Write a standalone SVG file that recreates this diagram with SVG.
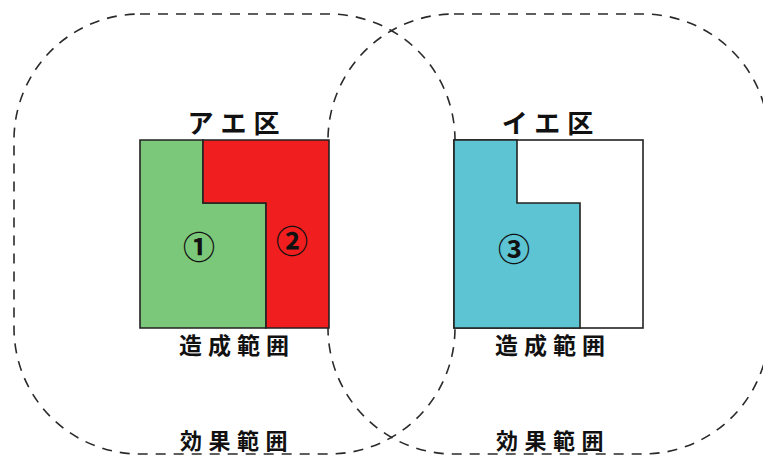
<svg xmlns="http://www.w3.org/2000/svg" width="763" height="455" viewBox="0 0 763 455">
<style>
.area{fill:none;stroke:#2a2a2a;stroke-width:1.6;stroke-dasharray:10 8}
.edge{stroke:#222;stroke-width:1.6;stroke-linejoin:miter}
.title{font-family:"Noto Sans CJK JP","Noto Sans",sans-serif;font-weight:bold;font-size:26px;letter-spacing:7px;fill:#111;text-anchor:middle;dominant-baseline:central}
.lbl{font-family:"Noto Sans CJK JP","Noto Sans",sans-serif;font-weight:bold;font-size:23px;letter-spacing:6px;fill:#111;text-anchor:middle;dominant-baseline:central}
.lbl2{font-family:"Noto Sans CJK JP","Noto Sans",sans-serif;font-weight:bold;font-size:22px;letter-spacing:6.5px;fill:#111;text-anchor:middle;dominant-baseline:central}
.num{font-family:"Noto Sans CJK JP","Noto Sans",sans-serif;font-weight:bold;font-size:32px;fill:#111;text-anchor:middle;dominant-baseline:central}
</style>
<rect width="763" height="455" fill="#ffffff"/>
<g id="connectors">
<path id="effect-left" class="area" d="M140,14 L329,14 A126,126 0 0 1 455,140 L455,328 A126,126 0 0 1 329,454 L140,454 A126,126 0 0 1 14,328 L14,140 A126,126 0 0 1 140,14 Z"/>
<path id="effect-right" class="area" d="M454,14 L643,14 A126,126 0 0 1 769,140 L769,328 A126,126 0 0 1 643,454 L454,454 A126,126 0 0 1 328,328 L328,140 A126,126 0 0 1 454,14 Z"/>
</g>
<g id="zone-a">
<polygon class="edge" fill="#7cc87a" points="140,140 203,140 203,203 266,203 266,328 140,328"/>
<polygon class="edge" fill="#f01e1e" points="203,140 329,140 329,328 266,328 266,203 203,203"/>
<text class="title" x="237" y="121">アエ区</text>
<text class="num" x="199" y="245">①</text>
<text class="num" x="292" y="239">②</text>
<text class="lbl" x="237" y="344">造成範囲</text>
<text class="lbl2" x="237" y="439">効果範囲</text>
</g>
<g id="zone-i">
<rect class="edge" fill="#ffffff" x="454" y="140" width="189" height="188"/>
<polygon class="edge" fill="#5cc4d2" points="454,140 517,140 517,203 580,203 580,328 454,328"/>
<text class="title" x="551" y="121">イエ区</text>
<text class="num" x="514" y="247">③</text>
<text class="lbl" x="553" y="344">造成範囲</text>
<text class="lbl2" x="553" y="439">効果範囲</text>
</g>
</svg>
